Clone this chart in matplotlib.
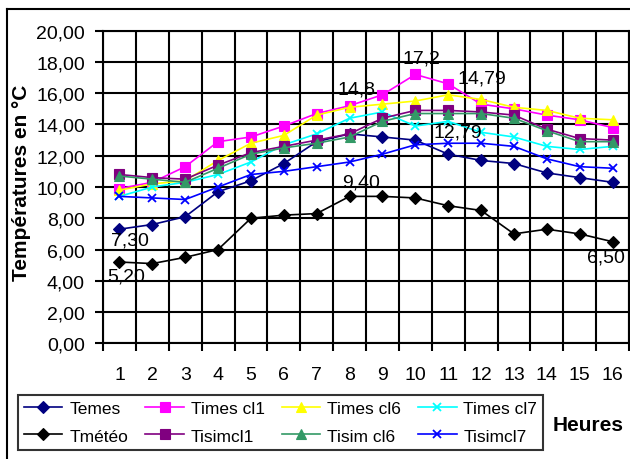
import matplotlib
matplotlib.use('Agg')
import matplotlib.pyplot as plt
from matplotlib.lines import Line2D
from matplotlib.ticker import FixedLocator, FuncFormatter

plt.rcParams['font.family'] = ['Liberation Sans', 'DejaVu Sans']

W, H = 630, 460

heures = list(range(1, 17))
y_ticks = list(range(0, 21, 2))

temes = [7.3, 7.6, 8.1, 9.7, 10.4, 11.5, 12.9, 13.4, 13.2, 13.0, 12.1, 11.7, 11.5, 10.9, 10.6, 10.3]
times_cl1 = [9.9, 10.3, 11.3, 12.9, 13.2, 13.9, 14.7, 15.2, 15.9, 17.2, 16.6, 15.3, 15.0, 14.6, 14.3, 13.8]
times_cl6 = [9.8, 10.2, 10.4, 11.7, 12.8, 13.3, 14.6, 15.1, 15.3, 15.5, 15.9, 15.6, 15.1, 14.9, 14.4, 14.3]
times_cl7 = [9.4, 10.0, 10.3, 10.8, 11.6, 12.7, 13.4, 14.4, 14.8, 13.9, 14.2, 13.5, 13.2, 12.6, 12.4, 12.6]
tmeteo = [5.2, 5.1, 5.5, 6.0, 8.0, 8.2, 8.3, 9.4, 9.4, 9.3, 8.8, 8.5, 7.0, 7.3, 7.0, 6.5]
tisim_cl1 = [10.8, 10.6, 10.5, 11.4, 12.2, 12.6, 13.0, 13.4, 14.4, 14.9, 14.9, 14.8, 14.6, 13.7, 13.1, 13.0]
tisim_cl6 = [10.7, 10.5, 10.3, 11.2, 12.1, 12.5, 12.8, 13.2, 14.2, 14.7, 14.7, 14.7, 14.4, 13.6, 12.9, 12.9]
tisim_cl7 = [9.4, 9.3, 9.2, 10.0, 10.8, 11.0, 11.3, 11.6, 12.1, 12.7, 12.8, 12.8, 12.6, 11.8, 11.3, 11.2]

# (label, values, color, marker, size) in excel series order
series = [
    ('Temes', temes, '#000080', 'D', 6.5),
    ('Times cl1', times_cl1, '#FF00FF', 's', 6.5),
    ('Times cl6', times_cl6, '#FFFF00', '^', 7.5),
    ('Times cl7', times_cl7, '#00FFFF', 'x', 6),
    ('Tmétéo', tmeteo, '#000000', 'D', 6.5),
    ('Tisimcl1', tisim_cl1, '#800080', 's', 6.5),
    ('Tisim cl6', tisim_cl6, '#339966', '^', 7.5),
    ('Tisimcl7', tisim_cl7, '#0000FF', 'x', 6),
]

fig = plt.figure(figsize=(W / 100, H / 100), dpi=100)
ax = fig.add_axes([103 / W, 1 - 344.3 / H, 526 / W, (344.3 - 31.7) / H])

lines = {}
for label, vals, col, mk, ms in series:
    ln, = ax.plot(heures, vals, color=col, marker=mk, markersize=ms, lw=1.2,
                  markeredgewidth=1.3 if mk == 'x' else 0.8, markeredgecolor=col,
                  label=label, zorder=3)
    lines[label] = ln

ax.set_xlim(0.5, 16.5)
ax.set_ylim(0, 20)

# category axis: ticks/grid on the boundaries, labels in between
ax.xaxis.set_major_locator(FixedLocator([h - 0.5 for h in heures] + [16.5]))
ax.xaxis.set_minor_locator(FixedLocator(heures))
ax.xaxis.set_major_formatter(FuncFormatter(lambda v, p: ''))
ax.xaxis.set_minor_formatter(FuncFormatter(lambda v, p: f'{int(v)}'))
ax.tick_params(axis='x', which='major', length=6, width=1.5, color='black', direction='out')
ax.tick_params(axis='x', which='minor', length=0, pad=16, labelsize=14)

ax.yaxis.set_major_locator(FixedLocator(y_ticks))
ax.yaxis.set_major_formatter(FuncFormatter(lambda v, p: f'{v:.2f}'.replace('.', ',')))
ax.tick_params(axis='y', length=6, width=1.5, color='black', pad=7, labelsize=14)

ax.grid(True, which='major', color='black', lw=1.5, zorder=1)
ax.set_axisbelow(True)
for sp in ax.spines.values():
    sp.set_linewidth(1.5)
    sp.set_color('black')

# data labels
labels = [
    ('17,2', times_cl1, 9, (4.3, 11.5)),
    ('14,8', times_cl1, 7, (5, 12.2)),
    ('14,79', times_cl1, 10, (24.5, 4.3)),
    ('12,79', tisim_cl7, 10, (7.2, 7.9)),
    ('9,40', tmeteo, 7, (8.6, 10)),
    ('7,30', temes, 0, (7.2, -7.9)),
    ('5,20', tmeteo, 0, (5, -10)),
    ('6,50', tmeteo, 15, (-5, -10.8)),
]
for txt, vals, i, off in labels:
    ax.annotate(txt, xy=(heures[i], vals[i]), xytext=off, textcoords='offset points',
                ha='center', va='center', fontsize=14, zorder=5)

fig.text(22 / W, 1 - 183 / H, 'Températures en °C', rotation=90, ha='center', va='center',
         fontsize=15, fontweight='bold')
fig.text(588 / W, 1 - 426 / H, 'Heures', ha='center', va='center', fontsize=15, fontweight='bold')

# legend, column-major order to get the excel row layout
order = ['Temes', 'Tmétéo', 'Times cl1', 'Tisimcl1', 'Times cl6', 'Tisim cl6', 'Times cl7', 'Tisimcl7']
leg = fig.legend([lines[k] for k in order], order, loc='upper left',
                 bbox_to_anchor=(18 / W, 1 - 396 / H), ncol=4, fontsize=12.5,
                 frameon=True, fancybox=False, edgecolor='black', borderpad=0.35,
                 handlelength=2.2, handletextpad=0.4, columnspacing=1.0, labelspacing=0.7,
                 borderaxespad=0)
leg.get_frame().set_linewidth(1.5)

# outer chart border
fig.add_artist(Line2D([7 / W, 7 / W], [0, 1 - 10 / H], color='black', lw=1.5))
fig.add_artist(Line2D([7 / W, 1], [1 - 10 / H, 1 - 10 / H], color='black', lw=1.5))

fig.savefig('out.png', dpi=100)
